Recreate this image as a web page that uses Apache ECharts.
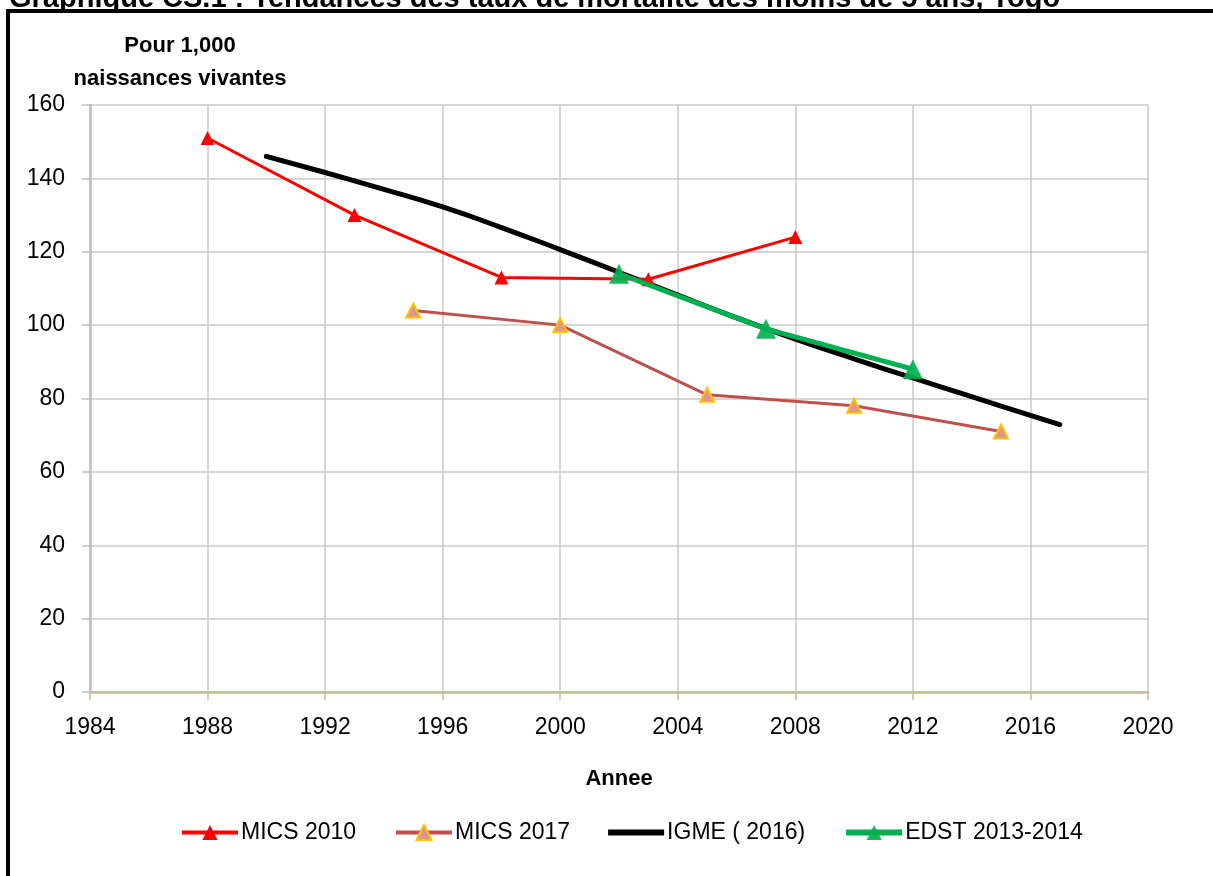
<!DOCTYPE html>
<html><head><meta charset="utf-8">
<script src="https://cdn.jsdelivr.net/npm/echarts@6/dist/echarts.min.js"></script>
<style>html,body{margin:0;padding:0;background:#fff}#c{width:1213px;height:876px}</style>
</head><body><div id="c"></div>
<script>
const titleText = 'Graphique CS.1 : Tendances des taux de mortalité des moins de 5 ans, Togo';
const yName = 'Pour 1,000\nnaissances vivantes';
const xName = 'Annee';
const seriesNames = ['MICS 2010', 'MICS 2017', 'IGME ( 2016)', 'EDST 2013-2014'];
const mics2010Years = [1988, 1993, 1998, 2003, 2008];
const mics2010Values = [151, 130, 113, 112.5, 124];
const mics2017Years = [1995, 2000, 2005, 2010, 2015];
const mics2017Values = [104, 100, 81, 78, 71];
const igmeYears = [1990, 1992, 1994, 1996, 1998, 2000, 2002, 2004, 2006, 2008, 2010, 2012, 2014, 2016, 2017];
const igmeValues = [146, 141.6, 137, 132.2, 126.6, 120.6, 114.4, 108.2, 102, 96.2, 90.8, 85.6, 80.5, 75.4, 72.9];
const edstYears = [2002, 2007, 2012];
const edstValues = [114, 99, 88];

const zip = (a, b) => a.map((v, i) => [v, b[i]]);
const font = 'Liberation Sans, Arial, sans-serif';
const chart = echarts.init(document.getElementById('c'));
chart.setOption({
  animation: false,
  backgroundColor: '#fff',
  title: {
    text: titleText, left: 4, top: -21,
    textStyle: { fontFamily: font, fontWeight: 'bold', fontSize: 29, color: '#000' }
  },
  graphic: [
    { type: 'rect', shape: { x: 8, y: 11, width: 1400, height: 1000 }, style: { fill: 'none', stroke: '#000', lineWidth: 4 }, z: 100 },
    { type: 'text', x: 180, y: 62, style: { text: yName, fontFamily: font, fontWeight: 'bold', fontSize: 22, lineHeight: 33, fill: '#000', align: 'center', verticalAlign: 'middle' } }
  ],
  grid: { left: 90, right: 65, top: 105, bottom: 184 },
  legend: {
    top: 816, left: 175, itemWidth: 56, itemHeight: 19, itemGap: 38,
    textStyle: { fontFamily: font, fontSize: 23, color: '#000', padding: [0, 0, 0, -2] },
    data: [
      { name: seriesNames[0], lineStyle: { width: 4 } },
      { name: seriesNames[1], lineStyle: { width: 4 } },
      { name: seriesNames[2], icon: 'path://M0,0 L56,0 L56,6 L0,6 Z', itemStyle: { color: '#000' } },
      { name: seriesNames[3], lineStyle: { width: 6 } }
    ]
  },
  xAxis: {
    type: 'value', min: 1984, max: 2020, interval: 4,
    name: xName, nameLocation: 'middle', nameGap: 76,
    nameTextStyle: { fontFamily: font, fontWeight: 'bold', fontSize: 22, color: '#000' },
    axisLine: { show: true, onZero: true, lineStyle: { color: '#C4BD97', width: 2.5 } },
    axisTick: { show: true, length: 8, lineStyle: { color: '#C4BD97', width: 1.5 } },
    axisLabel: { fontFamily: font, fontSize: 23, color: '#000', margin: 24, formatter: v => String(v) },
    splitLine: { show: true, lineStyle: { color: '#C8C8C8', width: 1.5 } }
  },
  yAxis: {
    type: 'value', min: 0, max: 160, interval: 20,
    axisLine: { show: true, lineStyle: { color: '#BFBFBF', width: 2.5 } },
    axisTick: { show: true, length: 8, lineStyle: { color: '#BFBFBF', width: 1.5 } },
    axisLabel: { fontFamily: font, fontSize: 23, color: '#000', margin: 25 },
    splitLine: { show: true, lineStyle: { color: '#C8C8C8', width: 1.5 } }
  },
  series: [
    { name: seriesNames[0], type: 'line', data: zip(mics2010Years, mics2010Values),
      symbol: 'triangle', symbolSize: 14, lineStyle: { color: '#FF0000', width: 3 },
      itemStyle: { color: '#FF0000' }, z: 3 },
    { name: seriesNames[1], type: 'line', data: zip(mics2017Years, mics2017Values),
      symbol: 'triangle', symbolSize: 14, lineStyle: { color: '#C0504D', width: 3 },
      itemStyle: { color: '#D99694', borderColor: '#FFC000', borderWidth: 2 }, z: 3 },
    { name: seriesNames[2], type: 'line', data: zip(igmeYears, igmeValues),
      smooth: 0.5, showSymbol: false, symbol: 'none', lineStyle: { color: '#000', width: 5, cap: 'round' },
      itemStyle: { color: '#000' }, z: 2 },
    { name: seriesNames[3], type: 'line', data: zip(edstYears, edstValues),
      symbol: 'triangle', symbolSize: 20, lineStyle: { color: '#00B050', width: 5 },
      itemStyle: { color: '#00B050', opacity: 0.9 }, z: 4 }
  ]
});
</script></body></html>
